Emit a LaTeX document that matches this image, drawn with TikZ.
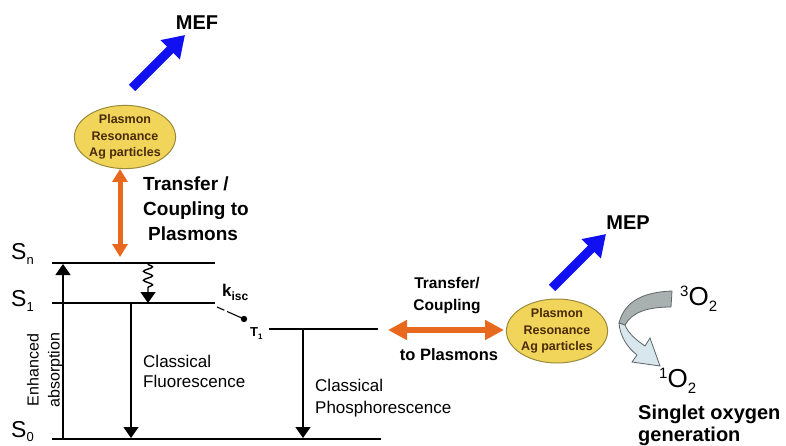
\documentclass[tikz,border=0pt]{standalone}
\usepackage{fontspec}
\setmainfont{Liberation Sans}
\usetikzlibrary{shapes.geometric,arrows.meta,decorations.pathmorphing}
\definecolor{orangeA}{HTML}{E8691E}
\definecolor{blueA}{HTML}{1010F0}
\definecolor{yellowA}{HTML}{F0D55A}
\definecolor{yellowB}{HTML}{9B8A3A}
\definecolor{brownA}{HTML}{4A2A0A}
\definecolor{grayA}{HTML}{A8B0B0}
\definecolor{grayB}{HTML}{5E6666}
\definecolor{lightA}{HTML}{D8E6EE}
\newcommand\fs[2]{\fontsize{#1}{#2}\selectfont}
\begin{document}
\begin{tikzpicture}[x=1pt,y=-1pt,
  level/.style={line width=1.8pt},
  trans/.style={line width=1.4pt,-{Triangle[width=15pt,length=11pt]}},
  orangearrow/.style={draw=orangeA,line width=5pt,{Triangle[width=15pt,length=13pt]}-{Triangle[width=15pt,length=13pt]}},
  orangearrowh/.style={draw=orangeA,line width=6pt,{Triangle[width=19pt,length=19pt]}-{Triangle[width=19pt,length=19pt]}},
  bluearrow/.style={draw=blueA,line width=9pt,-{Triangle[width=26pt,length=21pt]}},
  plasmon/.style={ellipse,draw=yellowB,line width=1pt,fill=yellowA,minimum width=95pt,inner sep=0pt,align=center,text=brownA,font=\bfseries\fs{12.5}{16.5}},
  lab/.style={inner sep=0pt,anchor=north west,align=left},
  slab/.style={inner sep=0pt,anchor=base west,font=\fs{23}{23}}
]
\useasboundingbox (0,0) rectangle (786,446);

% energy levels
\coordinate (snL) at (52,263); \coordinate (snR) at (215,263);
\coordinate (s1L) at (52,303); \coordinate (s1R) at (215,303);
\coordinate (s0L) at (52,439); \coordinate (s0R) at (381,439);
\coordinate (t1L) at (269,329); \coordinate (t1R) at (378,329);
\draw[level] (snL) -- (snR);
\draw[level] (s1L) -- (s1R);
\draw[level] (s0L) -- (s0R);
\draw[level] (t1L) -- (t1R);

\node[slab] (sn) at (11,259) {S\raisebox{-5pt}{\fs{13}{13}n}};
\node[slab] (s1) at (11,306) {S\raisebox{-5pt}{\fs{13}{13}1}};
\node[slab] (s0) at (11,437) {S\raisebox{-4pt}{\fs{13}{13}0}};

% transitions
\coordinate (ab0) at (63,439); \coordinate (abn) at (63,264);
\draw[trans] (ab0) -- (abn);
\coordinate (w0) at (148,264); \coordinate (w1) at (148,292); \coordinate (w2) at (148,303);
\draw[line width=1.4pt,decorate,decoration={snake,amplitude=4.5pt,segment length=9pt}] (w0) -- (w1);
\draw[trans] (w1) -- (w2);
\coordinate (f1) at (131,303); \coordinate (f0) at (131,438);
\draw[trans] (f1) -- (f0);
\coordinate (p1) at (303,329); \coordinate (p0) at (303,438);
\draw[trans] (p1) -- (p0);
\coordinate (k0) at (217,307); \coordinate (k1) at (244,319);
\draw[line width=1.1pt,dash pattern=on 8pt off 3pt on 30pt] (k0) -- (k1);
\fill (k1) circle (3.2pt);

\node[inner sep=0pt,rotate=90,align=center,font=\fs{16}{21}] (abs) at (45,370) {Enhanced\\absorption};
\node[lab,font=\fs{17}{20}] (fl) at (143,355) {Classical\\Fluorescence};
\node[lab,font=\fs{17}{22}] (ph) at (315,379) {Classical\\Phosphorescence};
\node[inner sep=0pt,anchor=base west,font=\bfseries\fs{17}{17}] (kisc) at (222,296) {k\raisebox{-4pt}{\fs{12}{12}isc}};
\node[inner sep=0pt,anchor=base west,font=\bfseries\fs{13}{13}] (t1) at (250,336) {T\raisebox{-3pt}{\fs{8}{8}1}};

% plasmon 1
\node[plasmon,minimum height=58pt] (e1) at (125,137) {Plasmon\\Resonance\\Ag particles};
\coordinate (b1s) at (132,88); \coordinate (b1e) at (185,35);
\draw[bluearrow] (b1s) -- (b1e);
\node[inner sep=0pt,font=\bfseries\fs{20}{20}] (mef) at (197,23) {MEF};
\coordinate (o1s) at (120,257); \coordinate (o1e) at (120,169);
\draw[orangearrow] (o1s) -- (o1e);
\node[lab,font=\bfseries\fs{19}{25}] (tc1) at (143,177) {Transfer /\\Coupling to\\\hspace{5pt}Plasmons};

% plasmon 2
\node[plasmon,minimum height=64pt] (e2) at (557,331) {Plasmon\\Resonance\\Ag particles};
\coordinate (o2s) at (388,330); \coordinate (o2e) at (504,330);
\draw[orangearrowh] (o2s) -- (o2e);
\node[inner sep=0pt,anchor=north,align=center,font=\bfseries\fs{15.5}{22}] (tc2) at (447,277) {Transfer/\\Coupling};
\node[inner sep=0pt,anchor=north,font=\bfseries\fs{16.5}{20}] (tp2) at (449,348) {to Plasmons};
\coordinate (b2s) at (552,288); \coordinate (b2e) at (606,234);
\draw[bluearrow] (b2s) -- (b2e);
\node[inner sep=0pt,font=\bfseries\fs{20}{20}] (mep) at (628,223) {MEP};

% oxygen conversion
\filldraw[fill=grayA,draw=grayB,line width=0.8pt]
  (672,291) .. controls (645,292) and (625,300) .. (619,323)
  -- (625,325) .. controls (632,312) and (648,307) .. (671,307) -- cycle;
\filldraw[fill=lightA,draw=grayB,line width=0.8pt]
  (619,323) .. controls (620,337) and (628,348) .. (637,355)
  -- (632,362) -- (660,366) -- (650,338) -- (645,346)
  .. controls (636,340) and (628,333) .. (625,325) -- cycle;
\node[inner sep=0pt,anchor=base west,font=\fs{26}{26}] (o3) at (680,305) {\raisebox{9pt}{\fs{15}{15}3}O\raisebox{-6pt}{\fs{15}{15}2}};
\node[inner sep=0pt,anchor=base west,font=\fs{26}{26}] (o1) at (659,387) {\raisebox{9pt}{\fs{15}{15}1}O\raisebox{-6pt}{\fs{15}{15}2}};
\node[lab,font=\bfseries\fs{20}{22}] (sog) at (638,405) {Singlet oxygen\\generation};
\end{tikzpicture}
\end{document}
